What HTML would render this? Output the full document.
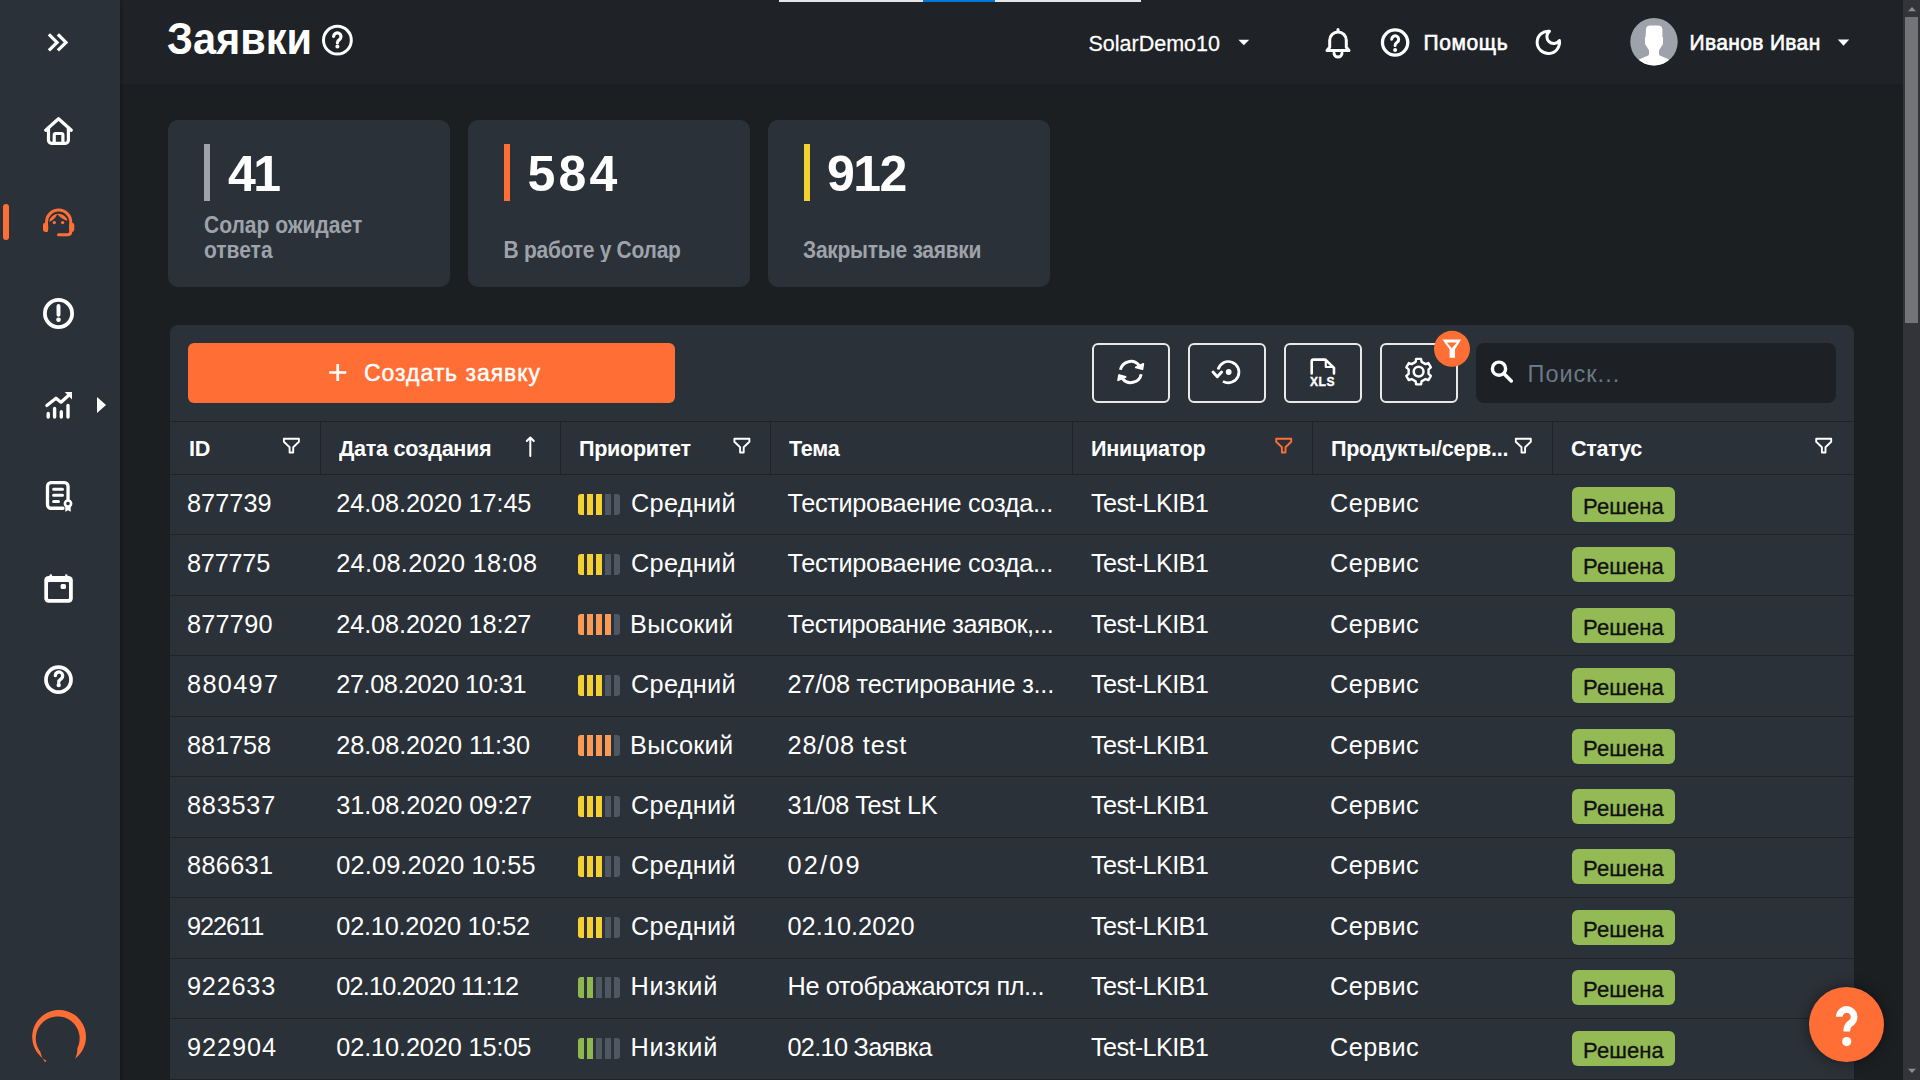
<!DOCTYPE html>
<html><head><meta charset="utf-8">
<style>
html,body{margin:0;padding:0;width:1920px;height:1080px;overflow:hidden;background:#1c1f22;font-family:"Liberation Sans",sans-serif;color:#fff}
.a{position:absolute}
#side{left:0;top:0;width:120px;height:1080px;background:#2b3138;box-shadow:1px 0 3px rgba(0,0,0,0.3)}
.ic{position:absolute;left:0;width:120px;display:flex;justify-content:center;align-items:center}
#topbar{left:779px;top:0;width:362px;height:2px;background:#e6e6e6}
#topbar i{position:absolute;left:144px;top:0;width:72px;height:2px;background:#0078d7}
.t{white-space:nowrap;position:absolute;line-height:1}
.card{position:absolute;top:120px;width:282px;height:167px;background:#2b3138;border-radius:10px}
.card .bar{position:absolute;left:36px;top:24px;width:6px;height:57px}
.card .num{position:absolute;left:60px;top:26px;font-size:50px;font-weight:700;line-height:56px;letter-spacing:0px}
.card .lbl{position:absolute;left:36px;bottom:25px;font-size:21px;font-weight:700;color:#9ea3ab;line-height:22px;transform:scaleY(1.12);transform-origin:0 100%}
#panel{left:169.5px;top:324.5px;width:1684px;height:800px;background:#2b3138;border-radius:8px;overflow:hidden}
#create{left:18.5px;top:18.5px;width:487px;height:60px;background:#ff6e35;border-radius:6px}
.ib{position:absolute;top:18.5px;width:74px;height:56px;border:2px solid #e9e9e9;border-radius:6px}
#search{left:1306.5px;top:18.5px;width:360px;height:60px;background:#1d2025;border-radius:8px}
.hline{position:absolute;left:0;width:1684px;height:1px;background:#1f2328}
.vline{position:absolute;top:96.5px;width:1px;height:53px;background:#1f2328}
.row{position:absolute;left:0;width:1684px;height:60.45px}
.cell{position:absolute;font-size:25.3px;white-space:nowrap;line-height:1}
.c3{letter-spacing:0.3px}.c4{letter-spacing:-0.38px}.c5{letter-spacing:-0.65px}.c6{letter-spacing:0.4px}
.badge{position:absolute;background:#93ba55;color:#111;border-radius:6px;width:103px;height:35px;font-size:22px;line-height:40px;letter-spacing:0.1px;text-align:center;-webkit-text-stroke:0.3px #111}
.prio{position:absolute;width:42px;height:21px}
.prio i{position:absolute;top:0;width:6px;height:21px;background:#4f5763}
.hd{position:absolute;top:113.5px;font-size:21.6px;font-weight:700;white-space:nowrap;line-height:1;letter-spacing:-0.3px;transform:scaleY(1.06);transform-origin:0 18.3px}
#sb{left:1903px;top:0;width:17px;height:1080px;background:#323439}
#sbthumb{left:1905px;top:17px;width:13px;height:306px;background:#737478}
</style></head>
<body>
<div class="a" style="left:120px;top:0;width:1783px;height:84px;background:#1f2226"></div>
<div id="side" class="a">
  <div class="a" style="left:3px;top:204px;width:6px;height:36px;background:#ff6e35;border-radius:3px"></div>
</div>
<div id="topbar" class="a"><i></i></div>

<div class="t" style="left:167px;top:19px;font-size:41.5px;font-weight:700;transform:scaleY(1.08);transform-origin:0 35px">Заявки</div>

<div class="t" style="left:1088.5px;top:34px;font-size:21.5px;-webkit-text-stroke:0.25px #fff;transform:scaleY(1.05);transform-origin:0 18px">SolarDemo10</div>
<div class="t" style="left:1423.5px;top:32.2px;font-size:21px;letter-spacing:0.6px;-webkit-text-stroke:0.6px #fff;transform:scaleY(1.05);transform-origin:0 17.8px">Помощь</div>
<div class="t" style="left:1689.5px;top:32.4px;font-size:21px;letter-spacing:0.35px;-webkit-text-stroke:0.6px #fff;transform:scaleY(1.05);transform-origin:0 17.8px">Иванов Иван</div>

<div class="card" style="left:168px"><div class="bar" style="background:#9ea3ab"></div><div class="num" style="letter-spacing:-2.5px">41</div><div class="lbl">Солар ожидает<br>ответа</div></div>
<div class="card" style="left:468px"><div class="bar" style="background:#ff6e35"></div><div class="num" style="letter-spacing:3.25px;left:59.5px">584</div><div class="lbl" style="letter-spacing:-0.27px;left:35.5px">В работе у Солар</div></div>
<div class="card" style="left:768px"><div class="bar" style="background:#f5d033"></div><div class="num" style="letter-spacing:-1.5px;left:59px">912</div><div class="lbl" style="letter-spacing:-0.27px;left:35px">Закрытые заявки</div></div>

<div id="panel" class="a">
  <div id="create" class="a"></div>
  <div class="ib" style="left:922.5px"></div>
  <div class="ib" style="left:1018.5px"></div>
  <div class="ib" style="left:1114.5px"></div>
  <div class="ib" style="left:1210.5px"></div>
  <div id="search" class="a"></div>
  <div class="hline" style="top:96.5px"></div><div class="hline" style="top:149.5px"></div><div class="vline" style="left:150.5px"></div><div class="vline" style="left:390.5px"></div><div class="vline" style="left:600.5px"></div><div class="vline" style="left:902.5px"></div><div class="vline" style="left:1142.5px"></div><div class="vline" style="left:1382.5px"></div><div class="hd" style="left:19.5px">ID</div><div class="hd" style="left:169.5px">Дата создания</div><div class="hd" style="left:409.5px">Приоритет</div><div class="hd" style="left:619.5px">Тема</div><div class="hd" style="left:921.5px">Инициатор</div><div class="hd" style="left:1161.5px">Продукты/серв...</div><div class="hd" style="left:1401.5px">Статус</div><div class="row" style="top:150.50px"><div class="cell" style="left:17.5px;top:15.8px;letter-spacing:0.04px">877739</div><div class="cell" style="left:166.8px;top:15.8px;letter-spacing:-0.12px">24.08.2020 17:45</div><div class="prio" style="left:408.5px;top:18.5px"><i style="left:0px;background:#f5d033;border-radius:3px 0 0 3px"></i><i style="left:9px;background:#f5d033"></i><i style="left:18px;background:#f5d033"></i><i style="left:27px;background:#4f5763"></i><i style="left:36px;background:#4f5763;border-radius:0 3px 3px 0"></i></div><div class="cell" style="left:461.5px;top:15.8px;letter-spacing:0.3px">Средний</div><div class="cell" style="left:618px;top:15.8px;letter-spacing:-0.33px">Тестироваение созда...</div><div class="cell c5" style="left:921.5px;top:15.8px">Test-LKIB1</div><div class="cell c6" style="left:1160.5px;top:15.8px">Сервис</div><div class="badge" style="left:1402.5px;top:11.8px">Решена</div></div><div class="hline" style="top:209.95px"></div><div class="row" style="top:210.95px"><div class="cell" style="left:17.5px;top:15.8px;letter-spacing:-0.24px">877775</div><div class="cell" style="left:166.8px;top:15.8px;letter-spacing:0.25px">24.08.2020 18:08</div><div class="prio" style="left:408.5px;top:18.5px"><i style="left:0px;background:#f5d033;border-radius:3px 0 0 3px"></i><i style="left:9px;background:#f5d033"></i><i style="left:18px;background:#f5d033"></i><i style="left:27px;background:#4f5763"></i><i style="left:36px;background:#4f5763;border-radius:0 3px 3px 0"></i></div><div class="cell" style="left:461.5px;top:15.8px;letter-spacing:0.3px">Средний</div><div class="cell" style="left:618px;top:15.8px;letter-spacing:-0.33px">Тестироваение созда...</div><div class="cell c5" style="left:921.5px;top:15.8px">Test-LKIB1</div><div class="cell c6" style="left:1160.5px;top:15.8px">Сервис</div><div class="badge" style="left:1402.5px;top:11.8px">Решена</div></div><div class="hline" style="top:270.40px"></div><div class="row" style="top:271.40px"><div class="cell" style="left:17.5px;top:15.8px;letter-spacing:0.22px">877790</div><div class="cell" style="left:166.8px;top:15.8px;letter-spacing:-0.12px">24.08.2020 18:27</div><div class="prio" style="left:408.5px;top:18.5px"><i style="left:0px;background:#fa9a54;border-radius:3px 0 0 3px"></i><i style="left:9px;background:#fa9a54"></i><i style="left:18px;background:#fa9a54"></i><i style="left:27px;background:#fa9a54"></i><i style="left:36px;background:#4f5763;border-radius:0 3px 3px 0"></i></div><div class="cell" style="left:460.5px;top:15.8px;letter-spacing:0.3px">Высокий</div><div class="cell" style="left:618px;top:15.8px;letter-spacing:-0.48px">Тестирование заявок,...</div><div class="cell c5" style="left:921.5px;top:15.8px">Test-LKIB1</div><div class="cell c6" style="left:1160.5px;top:15.8px">Сервис</div><div class="badge" style="left:1402.5px;top:11.8px">Решена</div></div><div class="hline" style="top:330.85px"></div><div class="row" style="top:331.85px"><div class="cell" style="left:17.5px;top:15.8px;letter-spacing:1.32px">880497</div><div class="cell" style="left:166.8px;top:15.8px;letter-spacing:-0.44px">27.08.2020 10:31</div><div class="prio" style="left:408.5px;top:18.5px"><i style="left:0px;background:#f5d033;border-radius:3px 0 0 3px"></i><i style="left:9px;background:#f5d033"></i><i style="left:18px;background:#f5d033"></i><i style="left:27px;background:#4f5763"></i><i style="left:36px;background:#4f5763;border-radius:0 3px 3px 0"></i></div><div class="cell" style="left:461.5px;top:15.8px;letter-spacing:0.3px">Средний</div><div class="cell" style="left:618px;top:15.8px;letter-spacing:-0.21px">27/08 тестирование з...</div><div class="cell c5" style="left:921.5px;top:15.8px">Test-LKIB1</div><div class="cell c6" style="left:1160.5px;top:15.8px">Сервис</div><div class="badge" style="left:1402.5px;top:11.8px">Решена</div></div><div class="hline" style="top:391.30px"></div><div class="row" style="top:392.30px"><div class="cell" style="left:17.5px;top:15.8px;letter-spacing:-0.08px">881758</div><div class="cell" style="left:166.8px;top:15.8px;letter-spacing:-0.09px">28.08.2020 11:30</div><div class="prio" style="left:408.5px;top:18.5px"><i style="left:0px;background:#fa9a54;border-radius:3px 0 0 3px"></i><i style="left:9px;background:#fa9a54"></i><i style="left:18px;background:#fa9a54"></i><i style="left:27px;background:#fa9a54"></i><i style="left:36px;background:#4f5763;border-radius:0 3px 3px 0"></i></div><div class="cell" style="left:460.5px;top:15.8px;letter-spacing:0.3px">Высокий</div><div class="cell" style="left:618px;top:15.8px;letter-spacing:0.84px">28/08 test</div><div class="cell c5" style="left:921.5px;top:15.8px">Test-LKIB1</div><div class="cell c6" style="left:1160.5px;top:15.8px">Сервис</div><div class="badge" style="left:1402.5px;top:11.8px">Решена</div></div><div class="hline" style="top:451.75px"></div><div class="row" style="top:452.75px"><div class="cell" style="left:17.5px;top:15.8px;letter-spacing:0.76px">883537</div><div class="cell" style="left:166.8px;top:15.8px;letter-spacing:-0.07px">31.08.2020 09:27</div><div class="prio" style="left:408.5px;top:18.5px"><i style="left:0px;background:#f5d033;border-radius:3px 0 0 3px"></i><i style="left:9px;background:#f5d033"></i><i style="left:18px;background:#f5d033"></i><i style="left:27px;background:#4f5763"></i><i style="left:36px;background:#4f5763;border-radius:0 3px 3px 0"></i></div><div class="cell" style="left:461.5px;top:15.8px;letter-spacing:0.3px">Средний</div><div class="cell" style="left:618px;top:15.8px;letter-spacing:-0.35px">31/08 Test LK</div><div class="cell c5" style="left:921.5px;top:15.8px">Test-LKIB1</div><div class="cell c6" style="left:1160.5px;top:15.8px">Сервис</div><div class="badge" style="left:1402.5px;top:11.8px">Решена</div></div><div class="hline" style="top:512.20px"></div><div class="row" style="top:513.20px"><div class="cell" style="left:17.5px;top:15.8px;letter-spacing:0.32px">886631</div><div class="cell" style="left:166.8px;top:15.8px;letter-spacing:0.15px">02.09.2020 10:55</div><div class="prio" style="left:408.5px;top:18.5px"><i style="left:0px;background:#f5d033;border-radius:3px 0 0 3px"></i><i style="left:9px;background:#f5d033"></i><i style="left:18px;background:#f5d033"></i><i style="left:27px;background:#4f5763"></i><i style="left:36px;background:#4f5763;border-radius:0 3px 3px 0"></i></div><div class="cell" style="left:461.5px;top:15.8px;letter-spacing:0.3px">Средний</div><div class="cell" style="left:618px;top:15.8px;letter-spacing:2.17px">02/09</div><div class="cell c5" style="left:921.5px;top:15.8px">Test-LKIB1</div><div class="cell c6" style="left:1160.5px;top:15.8px">Сервис</div><div class="badge" style="left:1402.5px;top:11.8px">Решена</div></div><div class="hline" style="top:572.65px"></div><div class="row" style="top:573.65px"><div class="cell" style="left:17.5px;top:15.8px;letter-spacing:-1.04px">922611</div><div class="cell" style="left:166.8px;top:15.8px;letter-spacing:-0.21px">02.10.2020 10:52</div><div class="prio" style="left:408.5px;top:18.5px"><i style="left:0px;background:#f5d033;border-radius:3px 0 0 3px"></i><i style="left:9px;background:#f5d033"></i><i style="left:18px;background:#f5d033"></i><i style="left:27px;background:#4f5763"></i><i style="left:36px;background:#4f5763;border-radius:0 3px 3px 0"></i></div><div class="cell" style="left:461.5px;top:15.8px;letter-spacing:0.3px">Средний</div><div class="cell" style="left:618px;top:15.8px;letter-spacing:0.04px">02.10.2020</div><div class="cell c5" style="left:921.5px;top:15.8px">Test-LKIB1</div><div class="cell c6" style="left:1160.5px;top:15.8px">Сервис</div><div class="badge" style="left:1402.5px;top:11.8px">Решена</div></div><div class="hline" style="top:633.10px"></div><div class="row" style="top:634.10px"><div class="cell" style="left:17.5px;top:15.8px;letter-spacing:0.76px">922633</div><div class="cell" style="left:166.8px;top:15.8px;letter-spacing:-0.82px">02.10.2020 11:12</div><div class="prio" style="left:408.5px;top:18.5px"><i style="left:0px;background:#8eb84e;border-radius:3px 0 0 3px"></i><i style="left:9px;background:#8eb84e"></i><i style="left:18px;background:#4f5763"></i><i style="left:27px;background:#4f5763"></i><i style="left:36px;background:#4f5763;border-radius:0 3px 3px 0"></i></div><div class="cell" style="left:461.0px;top:15.8px;letter-spacing:0.7px">Низкий</div><div class="cell" style="left:618px;top:15.8px;letter-spacing:-0.38px">Не отображаются пл...</div><div class="cell c5" style="left:921.5px;top:15.8px">Test-LKIB1</div><div class="cell c6" style="left:1160.5px;top:15.8px">Сервис</div><div class="badge" style="left:1402.5px;top:11.8px">Решена</div></div><div class="hline" style="top:693.55px"></div><div class="row" style="top:694.55px"><div class="cell" style="left:17.5px;top:15.8px;letter-spacing:0.94px">922904</div><div class="cell" style="left:166.8px;top:15.8px;letter-spacing:-0.12px">02.10.2020 15:05</div><div class="prio" style="left:408.5px;top:18.5px"><i style="left:0px;background:#8eb84e;border-radius:3px 0 0 3px"></i><i style="left:9px;background:#8eb84e"></i><i style="left:18px;background:#4f5763"></i><i style="left:27px;background:#4f5763"></i><i style="left:36px;background:#4f5763;border-radius:0 3px 3px 0"></i></div><div class="cell" style="left:461.0px;top:15.8px;letter-spacing:0.7px">Низкий</div><div class="cell" style="left:618px;top:15.8px;letter-spacing:-0.71px">02.10 Заявка</div><div class="cell c5" style="left:921.5px;top:15.8px">Test-LKIB1</div><div class="cell c6" style="left:1160.5px;top:15.8px">Сервис</div><div class="badge" style="left:1402.5px;top:11.8px">Решена</div></div><div class="hline" style="top:754.00px"></div>
</div>

<div class="t" style="left:364px;top:361.5px;font-size:23px;color:#fff;letter-spacing:0.95px;-webkit-text-stroke:0.45px #fff">Создать заявку</div>
<div class="t" style="left:1310px;top:375.5px;font-size:12px;font-weight:700;letter-spacing:0.6px;-webkit-text-stroke:0.4px #fff">XLS</div>
<div class="t" style="left:1527.5px;top:363px;font-size:23.5px;color:#6b7886;letter-spacing:1px">Поиск...</div>
<div class="a" style="left:1808.9px;top:986.7px;width:75.3px;height:75.3px;border-radius:50%;background:#ff6e35;box-shadow:0 0 14px rgba(0,0,0,0.45)"></div>
<svg class="a" style="left:1800px;top:980px" width="100" height="100" viewBox="1800 980 100 100"><path d="M1839.3 1016.8 A7.4 7.4 0 1 1 1850.4 1023.3 Q1846.7 1025.8 1846.7 1031.5" stroke="#fff" stroke-width="6.6" fill="none"/><circle cx="1846.7" cy="1041.6" r="4.6" fill="#fff"/></svg>
<svg class="a" style="left:0;top:0" width="1920" height="1080" viewBox="0 0 1920 1080" fill="none">
<g stroke="#fff" stroke-linecap="round" stroke-linejoin="round">
 <!-- sidebar -->
 <path d="M50 35.5 L57 42.4 L50 49.3 M59 35.5 L66 42.4 L59 49.3" stroke-width="3.2" stroke-linecap="square" stroke-linejoin="miter"/>
 <path d="M45.7 130.3 L58.5 118.7 L71.3 130.3" stroke-width="3.2"/>
 <path d="M48.5 128 V140.3 a3 3 0 0 0 3 3 H65.4 a3 3 0 0 0 3 -3 V128" stroke-width="3.2"/>
 <path d="M54.2 143 V135 a1.5 1.5 0 0 1 1.5 -1.5 H61.4 a1.5 1.5 0 0 1 1.5 1.5 V143" stroke-width="3.2"/>
 <circle cx="58.5" cy="313.5" r="13.6" stroke-width="3.8"/>
 <path d="M58.5 306 V314.7" stroke-width="3.9"/>
 <path d="M46.8 405.6 L56 398.2 L61 402.2 L69 395" stroke-width="3.2"/>
 <path d="M48.2 413.5 V417 M54.6 408.5 V417 M61.3 411.8 V417 M68 405.5 V417" stroke-width="3.4"/>
 <path d="M63 508.25 H51 a3.5 3.5 0 0 1 -3.5 -3.5 V486.15 a3.5 3.5 0 0 1 3.5 -3.5 H64.55 a3.5 3.5 0 0 1 3.5 3.5 V499.5" stroke-width="3.3"/>
 <path d="M53.6 489.3 H62.5 M53.6 495.3 H62.5 M53.6 501.4 H58.5" stroke-width="3"/>
 <circle cx="68" cy="503.6" r="3.1" stroke-width="2.6"/>
 <circle cx="58.5" cy="679.65" r="12.5" stroke-width="3.7"/>
 <path d="M55.3 675.6 A3.7 3.7 0 1 1 61.3 678.6 Q58.7 680.3 58.7 682.2" stroke-width="3.3"/>
 <!-- header -->
 <circle cx="337.4" cy="40.2" r="13.9" stroke-width="3"/>
 <path d="M333.6 36.3 A3.7 3.7 0 1 1 339.4 39.6 Q337.4 40.9 337.4 42.8" stroke-width="3.2"/>
 <path d="M1327 50.5 L1329.7 47.2 V40.3 A8.3 8.3 0 0 1 1346.3 40.3 V47.2 L1349 50.5 Z" stroke-width="3"/>
 <path d="M1334 53 A4 4 0 0 0 1342 53" stroke-width="3"/>
 <path d="M1338 29.6 V31" stroke-width="3"/>
 <circle cx="1395.1" cy="42.5" r="12.65" stroke-width="3.3"/>
 <path d="M1391.7 39.3 A3.5 3.5 0 1 1 1397.1 42.3 Q1395.1 43.7 1395.1 45.5" stroke-width="3"/>
 <path d="M1549.5 31.2 A11.2 11.2 0 1 0 1559.4 40.6 A6.9 6.9 0 1 1 1549.5 31.2 Z" stroke-width="3"/>
 <!-- toolbar -->
 <path d="M1120.43 369.80 A10.6 10.6 0 0 1 1139.15 365.47" stroke-width="3" stroke-linecap="butt"/>
 <path d="M1141.17 374.20 A10.6 10.6 0 0 1 1122.45 378.53" stroke-width="3" stroke-linecap="butt"/>
 <path d="M1223 381.3 A10.6 10.6 0 1 0 1218.1 369.5" stroke-width="2.7" stroke-linecap="butt"/>
 <path d="M1311.7 373.5 V361.3 Q1311.7 359.6 1313.4 359.6 H1325.5 L1334 368 V373.5" stroke-width="2.6"/>
 <path d="M1415.62 361.85 L1416.12 358.84 L1421.08 358.84 L1421.58 361.85 L1425.56 364.14 L1428.41 363.07 L1430.89 367.37 L1428.54 369.31 L1428.54 373.89 L1430.89 375.83 L1428.41 380.13 L1425.56 379.06 L1421.58 381.35 L1421.08 384.36 L1416.12 384.36 L1415.62 381.35 L1411.64 379.06 L1408.79 380.13 L1406.31 375.83 L1408.66 373.89 L1408.66 369.31 L1406.31 367.37 L1408.79 363.07 L1411.64 364.14 Z" stroke-width="2.4"/>
 <circle cx="1418.6" cy="371.6" r="4.9" stroke-width="2.5"/>
 <path d="M189 439 H298 " stroke-width="0"/>
 <path d="M283.9 438.8 H298.9 V441.8 L293.2 447.2 V452.5 H289.6 V447.2 L283.9 441.8 Z" stroke-width="1.9"/>
 <path d="M734.4 438.8 H749.4 V441.8 L743.7 447.2 V452.5 H740.1 V447.2 L734.4 441.8 Z" stroke-width="1.9"/>
 <path d="M1515.8 438.8 H1530.8 V441.8 L1525.1 447.2 V452.5 H1521.5 V447.2 L1515.8 441.8 Z" stroke-width="1.9"/>
 <path d="M1816.2 438.8 H1831.2 V441.8 L1825.5 447.2 V452.5 H1821.9 V447.2 L1816.2 441.8 Z" stroke-width="1.9"/>
 <path d="M1276.2 438.8 H1291.2 V441.8 L1285.5 447.2 V452.5 H1281.9 V447.2 L1276.2 441.8 Z" stroke="#ff6e35" stroke-width="1.9"/>
 <path d="M530.3 456 V437.5 M526.8 441 L530.3 437.5 L533.8 441" stroke-width="2"/>
 <path d="M337.75 364 V381 M329.25 372.5 H346.25" stroke-width="2.7" stroke-linecap="butt"/>
 <circle cx="1499" cy="368.7" r="6.6" stroke-width="3.4"/>
 <path d="M1504 373.7 L1511.3 381" stroke-width="3.5"/>
</g>
<g fill="#fff">
 <circle cx="58.5" cy="319.8" r="2.3"/>
 <path d="M64.7 392.1 H72 V399.4 Z"/>
 <path d="M97 397 L106 405 L97 413 Z"/>
 <path d="M65.3 505.8 V511.8 L68 510.3 L70.7 511.8 V505.8 Z"/>
 <rect x="44.3" y="576" width="28.5" height="26.8" rx="4.2"/>
 <rect x="48" y="582" width="21" height="16.9" rx="1" fill="#2b3039"/>
 <rect x="49.5" y="574.3" width="2.6" height="3.5" rx="1.2"/>
 <rect x="65" y="574.3" width="2.6" height="3.5" rx="1.2"/>
 <rect x="60.6" y="583.9" width="5.4" height="5.2" rx="1.6"/>
 <circle cx="58.7" cy="685.1" r="2.2"/>
 <circle cx="337.4" cy="46.4" r="2"/>
 <circle cx="1395.1" cy="50" r="2"/>
 <path d="M1238.4 39.7 H1249.2 L1243.8 45.3 Z"/>
 <path d="M1837.8 39.5 H1849.2 L1843.5 45.8 Z"/>
 <path d="M1143.3 363.9 L1142.5 369.2 L1135.8 367.4 Z" stroke="#fff" stroke-width="1.8" stroke-linejoin="round"/>
 <path d="M1118.1 380.2 L1119.1 375 L1125.6 376.9 Z" stroke="#fff" stroke-width="1.8" stroke-linejoin="round"/>
 <path d="M1213 372 L1217.3 376.8 L1221.6 372" stroke="#fff" stroke-width="2.9" fill="none" stroke-linejoin="round" stroke-linecap="round"/>
 <path d="M1325.8 360.5 V367 H1332.8" stroke="#fff" stroke-width="2.2" fill="none" stroke-linejoin="round"/>
 <circle cx="1228.7" cy="372" r="2.9"/>
</g>
<g fill="#ff6e35">
 <path d="M46.5 230.5 V222.2 A12.15 12.15 0 0 1 70.8 222.2 V231.5 Q70.8 234.8 67.5 234.8 H58.5" stroke="#ff6e35" stroke-width="3" fill="none" stroke-linecap="round"/>
 <rect x="43" y="222.7" width="5.2" height="9.3" rx="2.4"/>
 <rect x="69.1" y="222.7" width="5.2" height="9.3" rx="2.4"/>
 <path d="M49.1 221.8 A9.5 9.5 0 0 1 67.6 220.7 Q62 219.5 57.3 214.2 Q54.5 220 49.1 221.8 Z"/>
 <circle cx="54.3" cy="222.6" r="1.7"/>
 <circle cx="62.6" cy="222.6" r="1.7"/>
 <path d="M46.5 1060.7 L44.5 1059.5 L42.6 1058.2 L40.9 1056.7 L39.3 1055.1 L37.8 1053.3 L36.5 1051.5 L35.3 1049.5 L34.4 1047.4 L33.5 1045.3 L32.9 1043.1 L32.5 1040.9 L32.3 1038.6 L32.2 1036.3 L32.4 1034.0 L32.7 1031.8 L33.2 1029.5 L33.9 1027.4 L34.8 1025.3 L35.9 1023.3 L37.2 1021.3 L38.6 1019.5 L40.1 1017.9 L41.8 1016.3 L43.6 1014.9 L45.5 1013.7 L47.5 1012.6 L49.6 1011.7 L51.8 1011.0 L54.0 1010.5 L56.3 1010.1 L58.6 1010.0 L60.9 1010.1 L63.1 1010.3 L65.4 1010.7 L67.6 1011.4 L69.7 1012.2 L71.8 1013.2 L73.7 1014.3 L75.6 1015.6 L77.3 1017.1 L78.9 1018.7 L80.4 1020.5 L81.7 1022.4 L82.9 1024.3 L83.9 1026.4 L84.7 1028.5 L85.3 1030.7 L85.7 1033.0 L85.9 1035.2 L86.0 1037.5 L85.8 1039.8 L85.5 1042.1 L85.0 1044.3 L84.2 1046.5 L83.3 1048.6 L82.3 1050.6 L81.0 1052.5 L79.6 1054.3 L78.1 1056.0 L76.4 1057.5 L75.0 1059.0 L75.9 1056.7 L76.6 1054.4 L77.1 1052.2 L77.3 1049.9 L77.4 1047.9 L78.2 1046.2 L78.8 1044.4 L79.2 1042.6 L79.5 1040.8 L79.6 1038.9 L79.6 1037.1 L79.4 1035.2 L79.0 1033.4 L78.5 1031.6 L77.9 1029.8 L77.1 1028.2 L76.1 1026.6 L75.1 1025.0 L73.9 1023.6 L72.5 1022.3 L71.1 1021.1 L69.6 1020.0 L68.0 1019.1 L66.3 1018.3 L64.6 1017.6 L62.8 1017.1 L61.0 1016.7 L59.1 1016.5 L57.3 1016.5 L55.4 1016.6 L53.6 1016.9 L51.8 1017.3 L50.0 1017.9 L48.3 1018.6 L46.6 1019.5 L45.1 1020.5 L43.6 1021.6 L42.2 1022.9 L41.0 1024.3 L39.8 1025.7 L38.8 1027.3 L37.9 1028.9 L37.2 1030.6 L36.6 1032.4 L36.2 1034.2 L35.9 1036.1 L35.8 1037.9 L35.8 1039.8 L36.0 1041.6 L36.4 1043.5 L36.9 1045.2 L37.6 1047.0 L38.4 1048.7 L39.3 1050.3 L40.4 1051.8 L40.9 1053.8 L41.6 1055.9 L42.5 1058.0 L43.7 1060.1 L45.1 1062.2Z"/>
 <circle cx="1452" cy="348.8" r="18"/>
</g>
<g>
 <circle cx="1654" cy="41.8" r="23.75" fill="#9ea3ab"/>
 <clipPath id="av"><circle cx="1654" cy="41.8" r="23.75"/></clipPath>
 <g clip-path="url(#av)" fill="#fff">
  <path d="M1646 29.5 Q1646 25.6 1650.5 25.6 H1658 Q1662.4 25.6 1662.4 29.5 V36.8 L1663 37.6 V43 Q1663 44.6 1662 45.6 L1659 50.3 V54.6 Q1659.6 55.6 1661 56.1 L1669 59.4 L1676 72 H1632 L1639 59.4 L1647 56.1 Q1648.4 55.6 1649 54.6 V50.3 L1646 45.6 Q1645 44.6 1645 43 V37.6 L1645.6 36.8 Z"/>
 </g>
 <path d="M1442.4 339.6 H1461.2 L1455 349.3 V357.7 H1449.6 V349.3 Z" fill="#fff"/>
 <path d="M1446.9 342.4 H1456.7 L1451.8 348.2 Z" fill="#ff6e35"/>
</g>
</svg>
<div id="sb" class="a"></div>
<div id="sbthumb" class="a"></div>
<svg class="a" style="left:1903px;top:0" width="17" height="1080"><path d="M5 11.2 H13 L9 7 Z" fill="#8b8c90"/><path d="M5 1068.8 H13 L9 1073 Z" fill="#8b8c90"/></svg>
</body></html>
